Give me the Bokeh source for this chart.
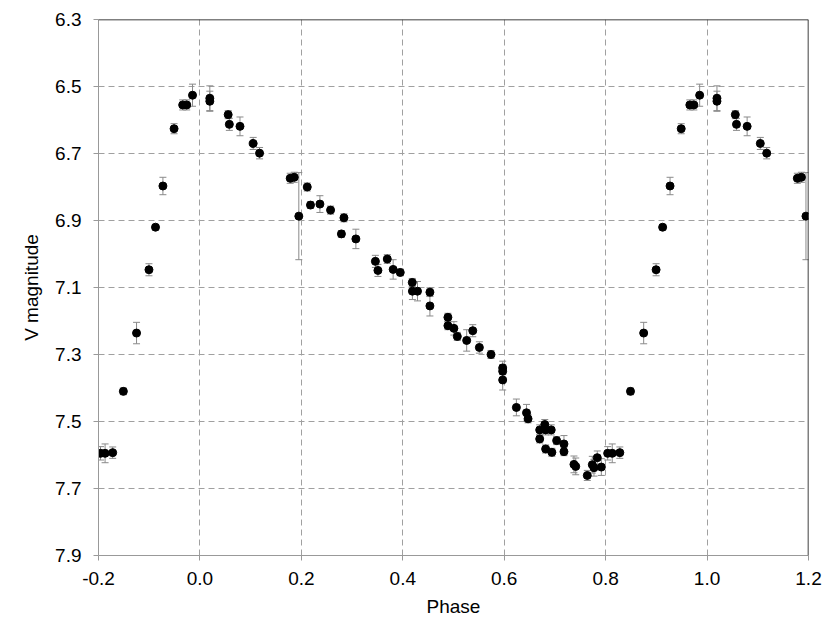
import numpy as np
from bokeh.plotting import figure
from bokeh.models import (ColumnDataSource, Range1d, FixedTicker, NumeralTickFormatter,
                          Whisker, TeeHead, Span)
from bokeh.embed import file_html
from bokeh.resources import INLINE

# Observed photometry (phase folded, base phase in [0, 1))
phase = [0.0195, 0.0195, 0.0557, 0.058, 0.079, 0.105, 0.1176, 0.178, 0.186, 0.195,
         0.2116, 0.218, 0.2366, 0.2576, 0.279, 0.284, 0.3075, 0.346, 0.351, 0.3694,
         0.381, 0.395, 0.4187, 0.419, 0.429, 0.4535, 0.4535, 0.489, 0.489, 0.5008,
         0.5075, 0.526, 0.538, 0.551, 0.574, 0.597, 0.597, 0.597, 0.624, 0.644,
         0.647, 0.670, 0.680, 0.6817, 0.6927, 0.670, 0.7034, 0.7178, 0.6817, 0.694,
         0.7178, 0.7375, 0.741, 0.7638, 0.7737, 0.7835, 0.777, 0.7915, 0.804, 0.813,
         0.828, 0.849, 0.875, 0.8995, 0.9124, 0.927, 0.949, 0.966, 0.974, 0.9854]
vmag = [6.535, 6.544, 6.584, 6.613, 6.619, 6.670, 6.699, 6.774, 6.771, 6.887,
        6.800, 6.854, 6.851, 6.869, 6.940, 6.892, 6.955, 7.022, 7.049, 7.015,
        7.046, 7.055, 7.085, 7.111, 7.111, 7.114, 7.155, 7.189, 7.214, 7.222,
        7.246, 7.258, 7.229, 7.279, 7.300, 7.340, 7.350, 7.376, 7.458, 7.474,
        7.492, 7.525, 7.509, 7.525, 7.525, 7.552, 7.557, 7.567, 7.582, 7.592,
        7.590, 7.628, 7.634, 7.661, 7.629, 7.608, 7.638, 7.636, 7.595, 7.595,
        7.593, 7.410, 7.236, 7.047, 6.920, 6.797, 6.626, 6.555, 6.555, 6.526]
verr = [0.037, 0.030, 0.012, 0.018, 0.028, 0.018, 0.017, 0.015, 0.015, 0.130,
        0.012, 0.010, 0.025, 0.012, 0.010, 0.012, 0.029, 0.018, 0.018, 0.013,
        0.029, 0.010, 0.012, 0.025, 0.029, 0.013, 0.030, 0.012, 0.012, 0.020,
        0.012, 0.032, 0.018, 0.017, 0.012, 0.020, 0.020, 0.030, 0.025, 0.025,
        0.012, 0.015, 0.015, 0.015, 0.015, 0.012, 0.012, 0.025, 0.012, 0.012,
        0.012, 0.025, 0.025, 0.015, 0.025, 0.020, 0.025, 0.025, 0.020, 0.028,
        0.017, 0.010, 0.032, 0.018, 0.008, 0.026, 0.015, 0.015, 0.015, 0.033]

x_ticks = [-0.2, 0.0, 0.2, 0.4, 0.6, 0.8, 1.0, 1.2]
y_ticks = [6.3, 6.5, 6.7, 6.9, 7.1, 7.3, 7.5, 7.7, 7.9]

# Repeat the folded cycle over the displayed phase window
ph = np.array(phase); vm = np.array(vmag); er = np.array(verr)
X = np.concatenate([ph - 1, ph, ph + 1])
Y = np.concatenate([vm, vm, vm])
E = np.concatenate([er, er, er])
keep = (X >= -0.2) & (X <= 1.2)
src = ColumnDataSource(dict(x=X[keep], y=Y[keep], lo=(Y - E)[keep], hi=(Y + E)[keep]))

p = figure(width=822, height=624, output_backend="svg", toolbar_location=None,
           x_range=Range1d(-0.2, 1.2), y_range=Range1d(7.9, 6.3),
           min_border_left=98, min_border_right=14, min_border_top=19, min_border_bottom=69)
p.outline_line_color = None
p.background_fill_color = "white"

grid_color = "#a0a0a0"
for g in (p.xgrid, p.ygrid):
    g.grid_line_color = grid_color
    g.grid_line_dash = "6 4"
    g.grid_line_width = 1

font = "Liberation Sans"
p.xaxis.ticker = FixedTicker(ticks=x_ticks)
p.yaxis.ticker = FixedTicker(ticks=y_ticks)
p.xaxis.formatter = NumeralTickFormatter(format="0.0")
p.yaxis.formatter = NumeralTickFormatter(format="0.0")
for ax in (p.xaxis, p.yaxis):
    ax.axis_line_color = "#999999"
    ax.major_tick_line_color = "#999999"
    ax.major_tick_out = 5
    ax.major_tick_in = 0
    ax.minor_tick_line_color = None
    ax.major_label_text_font = font
    ax.major_label_text_font_size = "19px"
    ax.major_label_text_color = "black"
    ax.axis_label_text_font = font
    ax.axis_label_text_font_size = "19px"
    ax.axis_label_text_font_style = "normal"
    ax.axis_label_text_color = "black"
p.xaxis.axis_label = "Phase"
p.yaxis.axis_label = "V magnitude"
p.xaxis.major_label_standoff = 11
p.yaxis.major_label_standoff = 12
p.xaxis.axis_label_standoff = 8
p.yaxis.axis_label_standoff = 10

p.add_layout(Span(location=6.3, dimension="width", line_color="black", line_width=1.5))
p.add_layout(Span(location=1.2, dimension="height", line_color="black", line_width=1.5))

err_color = "#8a8a8a"
w = Whisker(source=src, base="x", lower="lo", upper="hi", dimension="height",
            line_color=err_color, line_width=1,
            lower_head=TeeHead(size=7, line_color=err_color, line_width=1),
            upper_head=TeeHead(size=7, line_color=err_color, line_width=1))
p.add_layout(w)

p.scatter("x", "y", source=src, size=8, fill_color="black", line_color="black")

open("out.html", "w").write(file_html(p, INLINE))
